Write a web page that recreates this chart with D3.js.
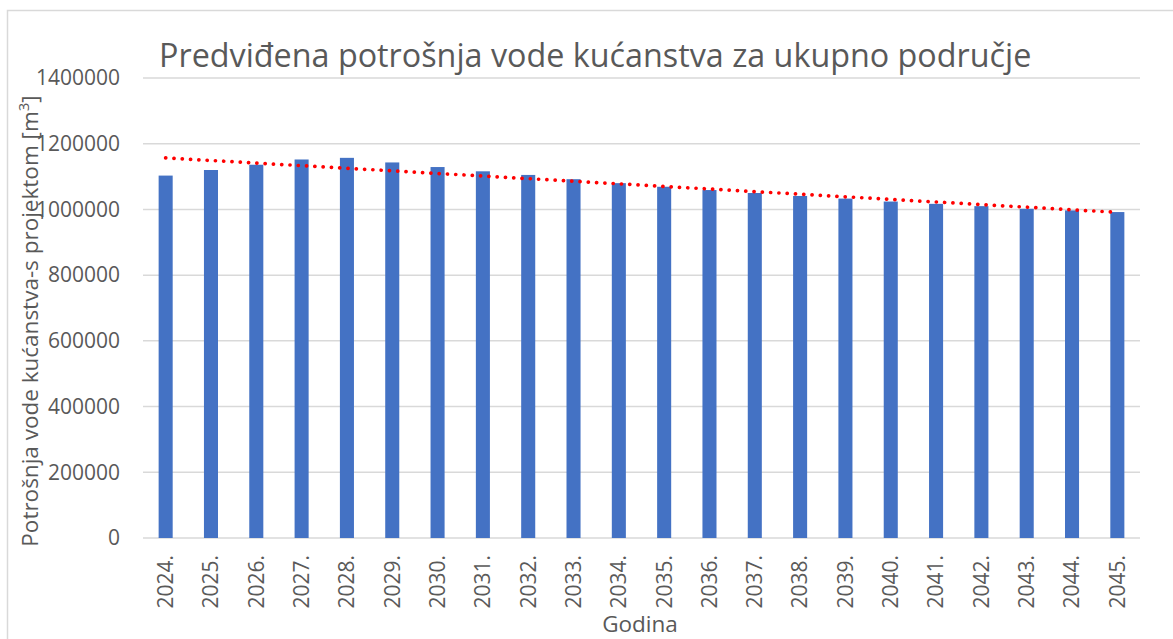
<!DOCTYPE html>
<html>
<head>
<meta charset="utf-8">
<script src="https://cdn.jsdelivr.net/npm/d3@7.9.0/dist/d3.min.js"></script>
<style>
  body { margin: 0; background: #fff; }
  text { font-family: "Open Sans", "Noto Sans", sans-serif; fill: #595959; }
</style>
</head>
<body>
<svg id="chart" width="1173" height="639"></svg>
<script>
// data
const years = ['2024.', '2025.', '2026.', '2027.', '2028.', '2029.', '2030.', '2031.',
  '2032.', '2033.', '2034.', '2035.', '2036.', '2037.', '2038.', '2039.', '2040.',
  '2041.', '2042.', '2043.', '2044.', '2045.'];
const potrosnja = [1103000, 1120000, 1136000, 1152000, 1157000, 1143000, 1129000, 1116000,
  1105000, 1092000, 1080000, 1069000, 1059000, 1050000, 1041000, 1033000, 1024000,
  1017000, 1010000, 1002000, 997000, 992000];
const yTicks = [0, 200000, 400000, 600000, 800000, 1000000, 1200000, 1400000];

const svg = d3.select('#chart');
const margin = { left: 143, right: 33, top: 78, bottom: 101 };
const W = 1173, H = 639;

// outer chart border
svg.append('rect')
  .attr('x', 7.5).attr('y', 10.5)
  .attr('width', 1180).attr('height', 640)
  .attr('fill', 'none').attr('stroke', '#d9d9d9').attr('stroke-width', 1.5);

let x = d3.scaleBand()
  .domain(years)
  .range([margin.left, W - margin.right])
  .paddingInner(0.69)
  .paddingOuter(0.345);

let y = d3.scaleLinear()
  .domain([0, 1400000])
  .range([H - margin.bottom, margin.top]);

// gridlines
svg.append('g')
  .selectAll('line')
  .data(yTicks)
  .join('line')
  .attr('x1', margin.left).attr('x2', W - margin.right)
  .attr('y1', (d) => y(d)).attr('y2', (d) => y(d))
  .attr('stroke', '#d9d9d9').attr('stroke-width', 1.5);

// y tick labels
svg.append('g')
  .selectAll('text')
  .data(yTicks)
  .join('text')
  .attr('x', 120)
  .attr('y', (d) => y(d))
  .attr('dy', '0.35em')
  .attr('text-anchor', 'end')
  .style('font-size', '21px')
  .text((d) => d);

// bars
svg.append('g')
  .selectAll('rect')
  .data(potrosnja)
  .join('rect')
  .attr('x', (d, i) => x(years[i]))
  .attr('width', x.bandwidth())
  .attr('y', (d) => y(d))
  .attr('height', (d) => y(0) - y(d))
  .attr('fill', '#4472c4');

// x tick labels, rotated
svg.append('g')
  .selectAll('text')
  .data(years)
  .join('text')
  .attr('transform', (d) => `translate(${x(d) + x.bandwidth() / 2},555) rotate(-90)`)
  .attr('dy', '0.35em')
  .attr('text-anchor', 'end')
  .style('font-size', '21px')
  .text((d) => d);

// linear trendline (least squares, like Excel)
let n = potrosnja.length;
let xm = d3.mean(potrosnja, (d, i) => i);
let ym = d3.mean(potrosnja);
let slope = d3.sum(potrosnja, (d, i) => (i - xm) * (d - ym)) / d3.sum(potrosnja, (d, i) => (i - xm) ** 2);
let icept = ym - slope * xm;
let trend = [0, n - 1].map((i) => [x(years[i]) + x.bandwidth() / 2, y(icept + slope * i)]);
svg.append('path')
  .attr('d', d3.line()(trend))
  .attr('fill', 'none')
  .attr('stroke', '#ff0000')
  .attr('stroke-width', 3.7)
  .attr('stroke-linecap', 'round')
  .attr('stroke-dasharray', '0.1 8.2');

// title
svg.append('text')
  .attr('x', 159).attr('y', 67)
  .style('font-size', '32.3px')
  .text('Predviđena potrošnja vode kućanstva za ukupno područje');

// axis titles
svg.append('text')
  .attr('x', 640).attr('y', 632)
  .attr('text-anchor', 'middle')
  .style('font-size', '22.5px')
  .text('Godina');

let yt = svg.append('text')
  .attr('transform', 'translate(38,321) rotate(-90)')
  .attr('text-anchor', 'middle')
  .style('font-size', '22.5px');
yt.append('tspan').text('Potrošnja vode kućanstva-s projektom [m');
yt.append('tspan').attr('dy', -9).style('font-size', '15px').text('3');
yt.append('tspan').attr('dy', 9).text(']');
</script>
</body>
</html>
